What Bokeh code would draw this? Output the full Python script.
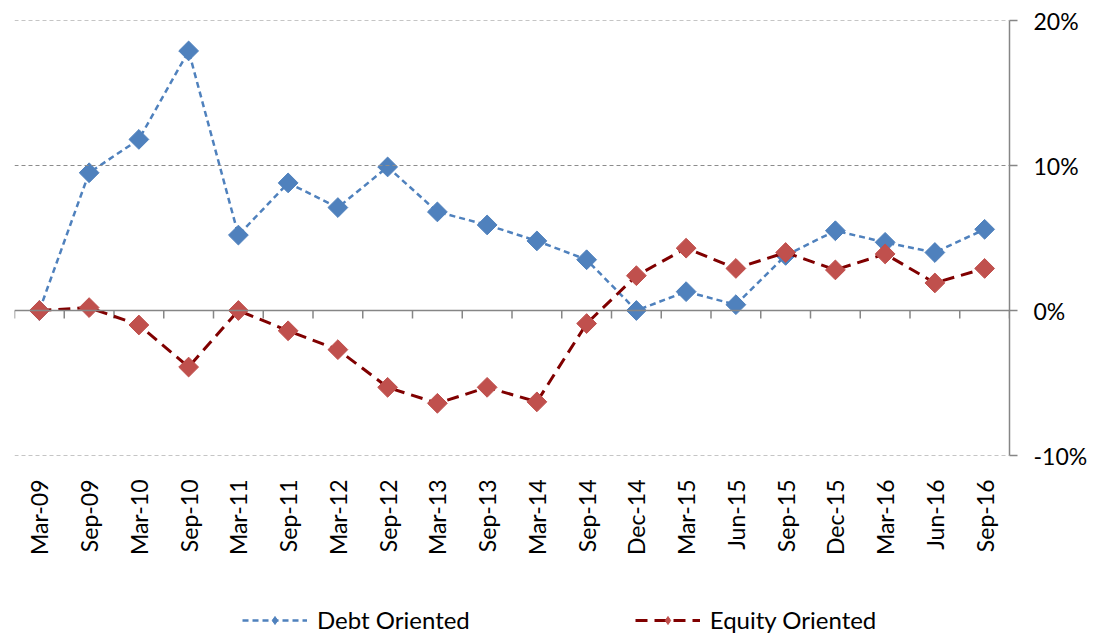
import numpy as np
from bokeh.plotting import figure
from bokeh.layouts import column
from bokeh.models import (Range1d, LinearAxis, FixedTicker, Legend, LegendItem,
                          ColumnDataSource, CustomJSTickFormatter, Span)
from bokeh.embed import file_html
from bokeh.resources import INLINE

categories = ["Mar-09", "Sep-09", "Mar-10", "Sep-10", "Mar-11", "Sep-11", "Mar-12",
              "Sep-12", "Mar-13", "Sep-13", "Mar-14", "Sep-14", "Dec-14", "Mar-15",
              "Jun-15", "Sep-15", "Dec-15", "Mar-16", "Jun-16", "Sep-16"]
debt_oriented = [0.0, 9.5, 11.8, 17.9, 5.2, 8.8, 7.1, 9.9, 6.8, 5.9, 4.8, 3.5, 0.0,
                 1.3, 0.4, 3.8, 5.5, 4.7, 4.0, 5.6]
equity_oriented = [0.0, 0.2, -1.0, -3.9, 0.0, -1.4, -2.7, -5.3, -6.4, -5.3, -6.3, -0.9,
                   2.4, 4.3, 2.9, 4.0, 2.8, 3.9, 1.9, 2.9]
y_ticks = [-10, 0, 10, 20]
series_names = ["Debt Oriented", "Equity Oriented"]

FONT = "Lato"
BLUE, BLUE_LINE = "#4F81BD", "#4F81BD"
RED, RED_LINE = "#C0504D", "#800000"
n = len(categories)
xs = [i + 0.5 for i in range(n)]
src = ColumnDataSource(dict(x=xs, debt=debt_oriented, eq=equity_oriented))

p = figure(width=1099, height=585, output_backend="svg", toolbar_location=None,
           x_range=Range1d(0, n), y_range=Range1d(-10, 20),
           x_axis_location=None, y_axis_location=None,
           min_border_left=14, min_border_top=20, min_border_right=90,
           min_border_bottom=130)
p.outline_line_color = None
p.xgrid.grid_line_color = None
p.ygrid.grid_line_color = None

# right y axis
yax = LinearAxis(ticker=FixedTicker(ticks=y_ticks),
                 formatter=CustomJSTickFormatter(code="return tick + '%';"))
yax.axis_line_color = "#868686"
yax.axis_line_width = 1.5
yax.major_tick_line_color = "#868686"
yax.major_tick_line_width = 1.5
yax.major_tick_out = 8
yax.major_tick_in = 0
yax.minor_tick_line_color = None
yax.major_label_text_font = FONT
yax.major_label_text_font_size = "23px"
yax.major_label_text_color = "black"
yax.major_label_standoff = 16
p.add_layout(yax, "right")

# dashed grid lines
for t in y_ticks:
    if t != 0:
        p.add_layout(Span(location=t, dimension="width", line_color="#8c8c8c",
                          line_width=1.2, line_dash="4 3"))

# zero line with category boundary ticks
p.add_layout(Span(location=0, dimension="width", line_color="#868686", line_width=1.5))
bounds = list(range(n + 1))
tick_len = 0.55
p.segment(x0=bounds, x1=bounds, y0=[0] * len(bounds), y1=[-tick_len] * len(bounds),
          line_color="#868686", line_width=1.5)

# category labels axis
lab = LinearAxis(ticker=FixedTicker(ticks=xs),
                 major_label_overrides={x: c for x, c in zip(xs, categories)})
lab.axis_line_color = None
lab.major_tick_line_color = None
lab.minor_tick_line_color = None
lab.major_label_orientation = np.pi / 2
lab.major_label_text_font = FONT
lab.major_label_text_font_size = "23px"
lab.major_label_text_color = "black"
lab.major_label_standoff = 18
p.add_layout(lab, "below")

p.line("x", "debt", source=src, line_color=BLUE_LINE, line_width=2.5, line_dash="6 4")
p.scatter("x", "debt", source=src, marker="square", angle=np.pi / 4, size=14,
          fill_color=BLUE, line_color=BLUE)
p.line("x", "eq", source=src, line_color=RED_LINE, line_width=3, line_dash="12 7")
p.scatter("x", "eq", source=src, marker="square", angle=np.pi / 4, size=14,
          fill_color=RED, line_color=RED)

# legend strip (proxy glyphs placed outside the visible range)
lf = figure(width=1099, height=48, output_backend="svg", toolbar_location=None,
            x_range=Range1d(0, 1), y_range=Range1d(0, 1),
            x_axis_location=None, y_axis_location=None,
            min_border_left=0, min_border_right=0, min_border_top=0, min_border_bottom=0)
lf.outline_line_color = None
lf.xgrid.grid_line_color = None
lf.ygrid.grid_line_color = None
proxy = ColumnDataSource(dict(x=[-5, -4], y=[-5, -4]))
dl1 = lf.line("x", "y", source=proxy, line_color=BLUE_LINE, line_width=2.5, line_dash="6 4")
ds1 = lf.scatter("x", "y", source=proxy, marker="diamond", size=20,
                 fill_color=BLUE, line_color=BLUE)
dl2 = lf.line("x", "y", source=proxy, line_color=RED_LINE, line_width=3, line_dash="12 7")
ds2 = lf.scatter("x", "y", source=proxy, marker="diamond", size=20,
                 fill_color=RED, line_color=RED)

legend = Legend(items=[LegendItem(label=series_names[0], renderers=[dl1, ds1]),
                       LegendItem(label=series_names[1], renderers=[dl2, ds2])],
                orientation="horizontal", location=(228, -1))
legend.glyph_width = 65
legend.label_standoff = 10
legend.spacing = 165
legend.label_text_font = FONT
legend.label_text_font_size = "24px"
legend.label_text_color = "black"
legend.border_line_color = None
legend.background_fill_alpha = 0
legend.padding = 0
legend.margin = 0
lf.add_layout(legend, "center")

layout = column(p, lf, spacing=0)
open("out.html", "w").write(file_html(layout, INLINE))
